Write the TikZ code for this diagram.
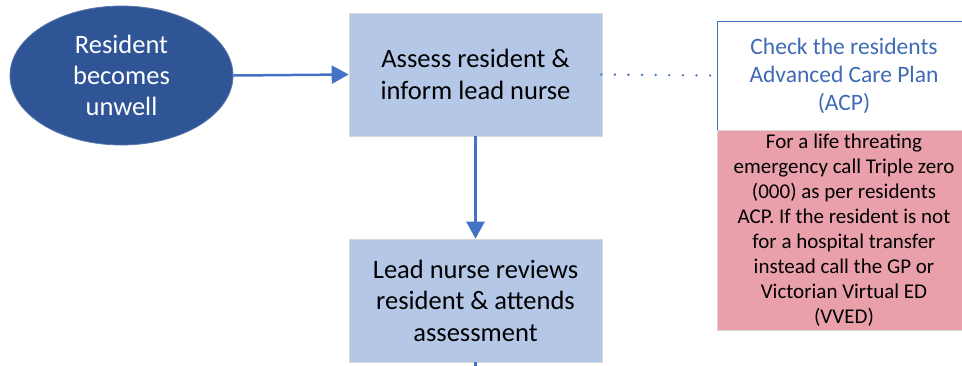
\documentclass[tikz,border=0pt]{standalone}
\usepackage{fontspec}
\setmainfont{Carlito}
\usetikzlibrary{shapes.geometric,arrows.meta}
\definecolor{darkblue}{RGB}{47,85,151}
\definecolor{boxblue}{RGB}{180,199,231}
\definecolor{linkblue}{RGB}{68,114,196}
\definecolor{textblue}{RGB}{63,107,181}
\definecolor{pinkred}{RGB}{234,160,170}
\definecolor{edgegray}{RGB}{215,215,215}
\tikzset{
  startoval/.style={ellipse, fill=darkblue, draw=darkblue!80!white, line width=0.8pt,
    minimum width=223pt, minimum height=139pt, inner sep=0pt, text=white,
    align=center, font=\fontsize{26.5}{31}\selectfont},
  stepbox/.style={rectangle, fill=boxblue, draw=edgegray, line width=0.6pt,
    minimum width=253pt, minimum height=123pt, inner sep=0pt,
    align=center, font=\fontsize{26.5}{31.5}\selectfont},
  acpbox/.style={rectangle, fill=white, draw=linkblue, line width=1pt,
    minimum width=254pt, minimum height=109pt, inner sep=0pt, text=textblue,
    align=center, font=\fontsize{23.5}{28}\selectfont},
  warnbox/.style={rectangle, fill=pinkred, draw=edgegray, line width=0.6pt,
    minimum width=254pt, minimum height=200pt, inner sep=0pt,
    align=center, font=\fontsize{21}{25}\selectfont},
  flowarrow/.style={draw=linkblue, line width=2.5pt, -{Triangle[length=17pt,width=18pt]}},
  flowline/.style={draw=linkblue, line width=2.5pt},
  dotlink/.style={draw=linkblue, line width=2.6pt, line cap=round, dash pattern=on 0pt off 13.6pt}
}
\begin{document}
\begin{tikzpicture}[x=1pt,y=-1pt]
\useasboundingbox (0,0) rectangle (962,365);
\clip (0,0) rectangle (962,365);
\node[startoval] (unwell) at (121.5,75.5) {Resident\\becomes\\unwell};
\node[stepbox] (assess) at (475.5,74.5) {Assess resident \&\\inform lead nurse};
\node[stepbox] (lead) at (475.5,300.5) {Lead nurse reviews\\resident \& attends\\assessment};
\node[acpbox] (acp) at (844,75.5) {Check the residents\\Advanced Care Plan\\(ACP)};
\node[warnbox] (warn) at (844,230) {For a life threating\\emergency call Triple zero\\(000) as per residents\\ACP. If the resident is not\\for a hospital transfer\\instead call the GP or\\Victorian Virtual ED\\(VVED)};
\coordinate (down) at (475.5,380);
\draw[flowarrow] (unwell.east) -- (assess.west);
\draw[flowarrow] (assess.south) -- (lead.north);
\draw[dotlink] ([xshift=-1pt]assess.east) -- ([xshift=-2pt]acp.west);
\draw[flowline] (lead.south) -- (down);
\end{tikzpicture}
\end{document}
